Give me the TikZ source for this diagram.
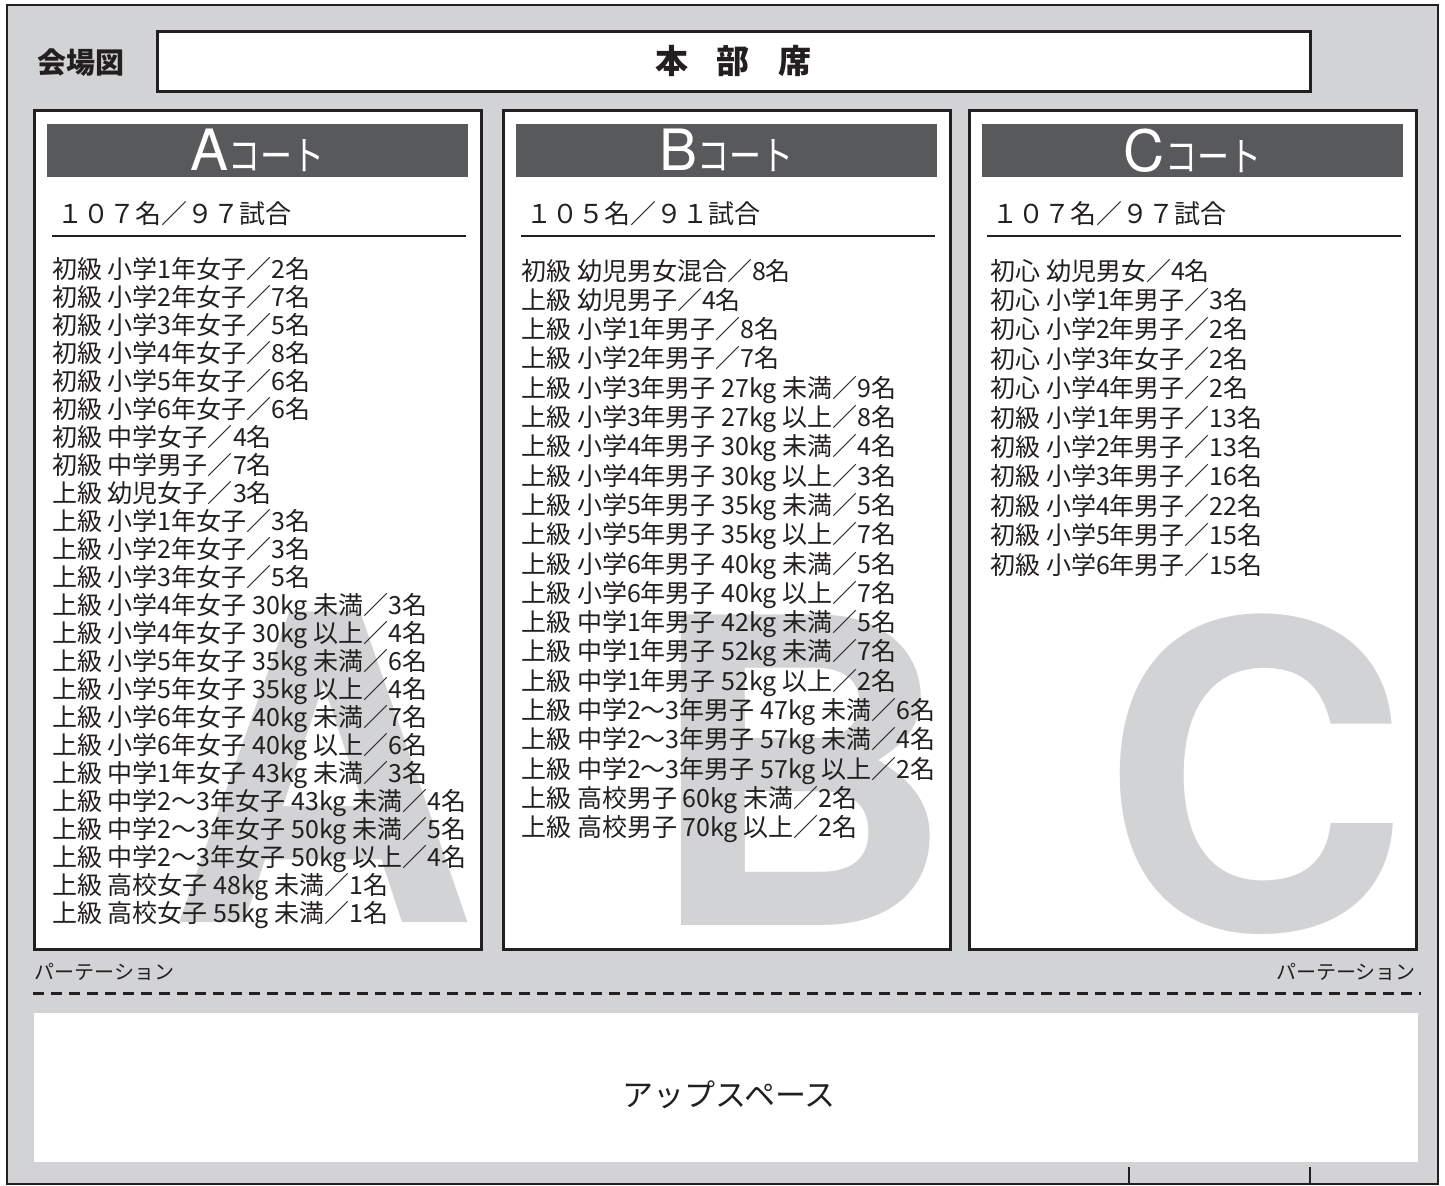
\documentclass[tikz,border=0pt]{standalone}
\usepackage{fontspec}
\setmainfont{Noto Sans CJK JP}
\newfontfamily\bigletter{TeX Gyre Heros}
\usepackage{xcolor}
\usetikzlibrary{positioning}

\definecolor{hallgray}{HTML}{D1D3D4}
\definecolor{bargray}{HTML}{58595B}
\definecolor{ink}{HTML}{231F20}

\begin{document}
\begin{tikzpicture}[x=0.5pt,y=-0.5pt]
	\tikzstyle{court}=[draw=ink,line width=1.5pt,fill=white,outer sep=0pt,inner sep=0pt,minimum width=223.5pt,minimum height=419.5pt,anchor=north west]
	\tikzstyle{courtbar}=[fill=bargray,text=white,inner sep=0pt,outer sep=0pt,minimum width=210.5pt,minimum height=26.5pt]
	\tikzstyle{count}=[text=ink,inner sep=0pt,anchor=base west,font=\fontsize{13}{13}\selectfont]
	\tikzstyle{entry}=[text=ink,inner sep=0pt,anchor=base west,font=\fontsize{12.5}{12.5}\selectfont]
	\tikzstyle{giant}=[text=hallgray,inner sep=0pt,anchor=base,font=\bigletter\bfseries\fontsize{213}{213}\selectfont]
	\tikzstyle{partition}=[text=ink,inner sep=0pt,font=\fontsize{10}{10}\selectfont]
	\useasboundingbox (0,0) rectangle (1445,1185);
	\draw[ink,line width=1.2pt,fill=hallgray] (7,5) rectangle (1438,1184);
	\node[text=ink,font=\bfseries\fontsize{14.5}{14.5}\selectfont] (hallmap) at (81,63) {会場図};
	\node[draw=ink,line width=1.5pt,fill=white,minimum width=576.5pt,minimum height=30pt,inner sep=0pt] (hq) at (733.5,61) {};
	\node[text=ink,font=\bfseries\fontsize{16.5}{16.5}\selectfont] (hqlabel) at (hq.center) {本\hspace{14.5pt}部\hspace{14.5pt}席};
	% courts
	\foreach \c/\x/\num in {A/34/１０７名／９７試合,B/503/１０５名／９１試合,C/969/１０７名／９７試合}{
		\node[court] (court\c) at (\x,110) {};
		\node[courtbar,below=7pt of court\c.north] (bar\c) {{\bigletter\fontsize{28.5}{28.5}\selectfont\c}\scalebox{0.8}[1]{\fontsize{20}{20}\selectfont コート}};
		\node[count] (count\c) at (\x+23,223) {\num};
		\draw[ink,line width=0.7pt] (\x+18,236) -- (\x+432,236);
	}
	\node[giant] (bigA) at (322,922) {A};
	\node[giant] (bigB) at (800,925) {B};
	\node[giant] (bigC) at (1255,929) {C};
	\foreach \t [count=\i] in {初級 小学1年女子／2名,初級 小学2年女子／7名,初級 小学3年女子／5名,初級 小学4年女子／8名,初級 小学5年女子／6名,初級 小学6年女子／6名,初級 中学女子／4名,初級 中学男子／7名,上級 幼児女子／3名,上級 小学1年女子／3名,上級 小学2年女子／3名,上級 小学3年女子／5名,上級 小学4年女子 30kg 未満／3名,上級 小学4年女子 30kg 以上／4名,上級 小学5年女子 35kg 未満／6名,上級 小学5年女子 35kg 以上／4名,上級 小学6年女子 40kg 未満／7名,上級 小学6年女子 40kg 以上／6名,上級 中学1年女子 43kg 未満／3名,上級 中学2〜3年女子 43kg 未満／4名,上級 中学2〜3年女子 50kg 未満／5名,上級 中学2〜3年女子 50kg 以上／4名,上級 高校女子 48kg 未満／1名,上級 高校女子 55kg 未満／1名}
		\node[entry] (a\i) at (52,250+28*\i) {\t};
	\foreach \t [count=\i] in {初級 幼児男女混合／8名,上級 幼児男子／4名,上級 小学1年男子／8名,上級 小学2年男子／7名,上級 小学3年男子 27kg 未満／9名,上級 小学3年男子 27kg 以上／8名,上級 小学4年男子 30kg 未満／4名,上級 小学4年男子 30kg 以上／3名,上級 小学5年男子 35kg 未満／5名,上級 小学5年男子 35kg 以上／7名,上級 小学6年男子 40kg 未満／5名,上級 小学6年男子 40kg 以上／7名,上級 中学1年男子 42kg 未満／5名,上級 中学1年男子 52kg 未満／7名,上級 中学1年男子 52kg 以上／2名,上級 中学2〜3年男子 47kg 未満／6名,上級 中学2〜3年男子 57kg 未満／4名,上級 中学2〜3年男子 57kg 以上／2名,上級 高校男子 60kg 未満／2名,上級 高校男子 70kg 以上／2名}
		\node[entry] (b\i) at (521,250.7+29.3*\i) {\t};
	\foreach \t [count=\i] in {初心 幼児男女／4名,初心 小学1年男子／3名,初心 小学2年男子／2名,初心 小学3年女子／2名,初心 小学4年男子／2名,初級 小学1年男子／13名,初級 小学2年男子／13名,初級 小学3年男子／16名,初級 小学4年男子／22名,初級 小学5年男子／15名,初級 小学6年男子／15名}
		\node[entry] (c\i) at (990,250.6+29.4*\i) {\t};
	% partition and up space
	\node[partition,anchor=west] (partL) at (34,972) {パーテーション};
	\node[partition,anchor=east] (partR) at (1416,972) {パーテーション};
	\coordinate (dashL) at (33,993);
	\coordinate (dashR) at (1421,993);
	\draw[ink,line width=1.5pt,dash pattern=on 5.5pt off 3.5pt] (dashL) -- (dashR);
	\node[fill=white,minimum width=692pt,minimum height=74.5pt,inner sep=0pt,anchor=north west] (upspace) at (34,1013) {};
	\node[text=ink,anchor=base,inner sep=0pt,font=\fontsize{15.5}{15.5}\selectfont] (uplabel) at (729,1106) {アップスペース};
	\coordinate (tickA) at (1129,1167);
	\coordinate (tickB) at (1310,1167);
	\draw[ink,line width=0.6pt] (tickA) -- (tickA |- 0,1184);
	\draw[ink,line width=0.6pt] (tickB) -- (tickB |- 0,1184);
\end{tikzpicture}
\end{document}
